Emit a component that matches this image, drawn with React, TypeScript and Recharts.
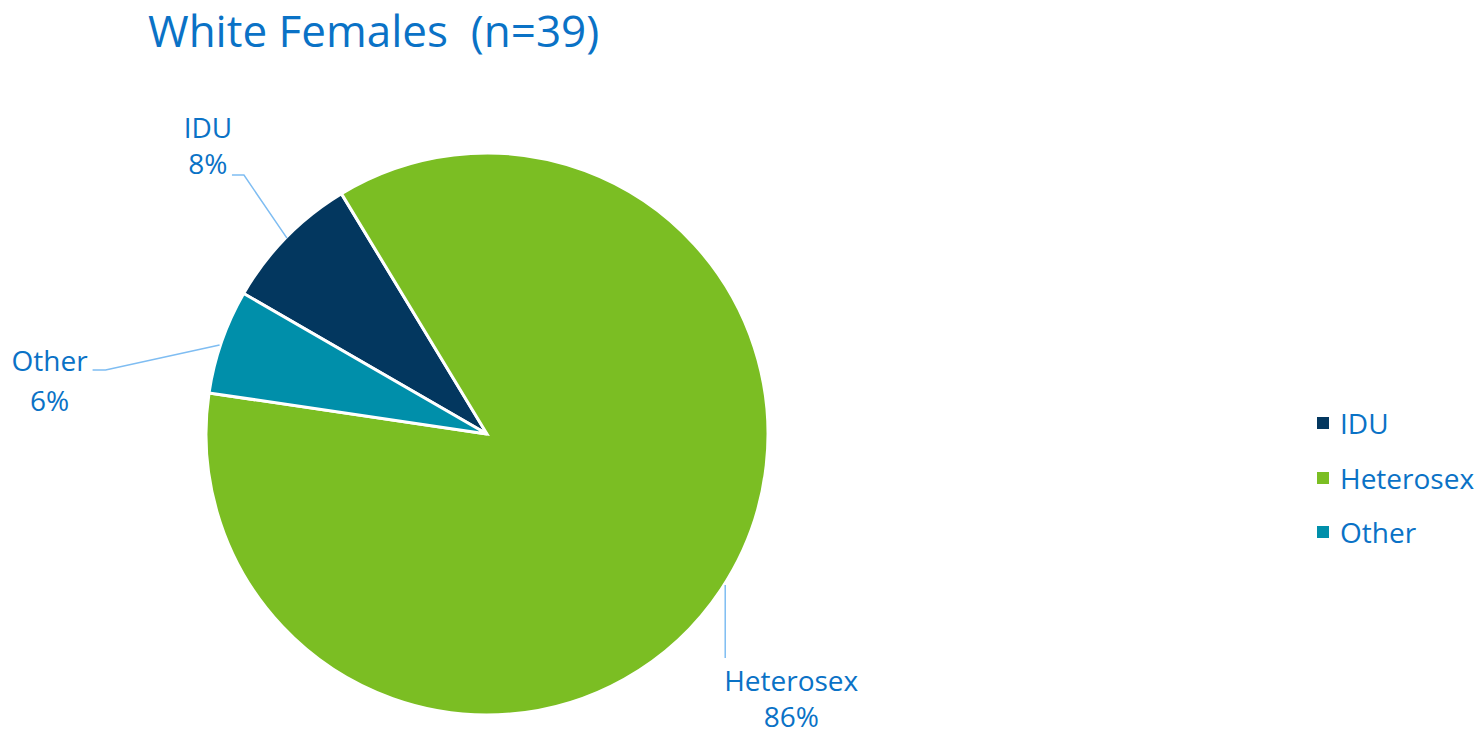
import { PieChart, Pie, Cell, Legend } from "recharts";

const categories = ["IDU", "Heterosex", "Other"];
const percents = [8, 86, 6];
const sliceColors = ["#03375F", "#7BBE23", "#008FAA"];

const data = categories.map((name, i) => ({ name, value: percents[i] }));

const TEXT_BLUE = "#0A72C6";
const LEADER_BLUE = "#7FBDF2";
const FONT = "'Open Sans', sans-serif";
const RADIAN = Math.PI / 180;

// leader/label offsets relative to the slice's outer edge point
const labelLayout: Record<string, any> = {
  IDU: { leader: [[0, 0], [-43, -63], [-55, -63]], text: [-79, -111, -75] },
  Other: { leader: [[-3, 3], [-117, 28], [-130, 28]], text: [-173, 18, 58] },
  Heterosex: { leader: [[5, -4], [5, 69]], text: [71, 91, 127] },
};

const renderLabel = (props: any) => {
  const { cx, cy, midAngle, name, value } = props;
  const r = 280;
  const ex = cx + r * Math.cos(-midAngle * RADIAN);
  const ey = cy + r * Math.sin(-midAngle * RADIAN);
  const cfg = labelLayout[name];
  const pts = cfg.leader.map((p: number[]) => `${ex + p[0]},${ey + p[1]}`).join(" ");
  const [tx, y1, y2] = cfg.text;
  return (
    <g>
      <polyline points={pts} fill="none" stroke={LEADER_BLUE} strokeWidth={1.5} />
      <text
        x={ex + tx}
        y={ey + y1}
        textAnchor="middle"
        dominantBaseline="central"
        fill={TEXT_BLUE}
        fontSize={28}
        fontFamily={FONT}
      >
        {name}
      </text>
      <text
        x={ex + tx}
        y={ey + y2}
        textAnchor="middle"
        dominantBaseline="central"
        fill={TEXT_BLUE}
        fontSize={28}
        fontFamily={FONT}
      >
        {`${value}%`}
      </text>
    </g>
  );
};

const renderLegend = () => (
  <div style={{ fontFamily: FONT, fontSize: 28, color: TEXT_BLUE }}>
    {categories.map((c, i) => (
      <div
        key={c}
        style={{ display: "flex", alignItems: "center", height: 54.6 }}
      >
        <span
          style={{
            display: "inline-block",
            width: 12,
            height: 12,
            background: sliceColors[i],
            marginRight: 11,
          }}
        />
        <span>{c}</span>
      </div>
    ))}
  </div>
);

export default function App() {
  return (
    <div
      style={{
        position: "absolute",
        left: 0,
        top: 0,
        width: 1476,
        height: 729,
        background: "#fff",
      }}
    >
      <div
        style={{
          position: "absolute",
          left: 148,
          top: 0,
          fontFamily: FONT,
          fontSize: 44,
          color: TEXT_BLUE,
          whiteSpace: "pre",
          lineHeight: "normal",
          zIndex: 2,
        }}
      >
        {"White Females  (n=39)"}
      </div>
      <PieChart
        width={1476}
        height={729}
        margin={{ top: 0, right: 0, bottom: 0, left: 0 }}
      >
        <Pie
          data={data}
          dataKey="value"
          nameKey="name"
          cx={487}
          cy={434}
          outerRadius={281}
          startAngle={150}
          endAngle={-210}
          stroke="#ffffff"
          strokeWidth={3}
          label={renderLabel}
          labelLine={false}
          isAnimationActive={false}
        >
          {data.map((d, i) => (
            <Cell key={d.name} fill={sliceColors[i]} />
          ))}
        </Pie>
        <Legend
          content={renderLegend}
          wrapperStyle={{
            left: 1317,
            top: 396,
            right: "auto",
            bottom: "auto",
            width: "auto",
          }}
        />
      </PieChart>
    </div>
  );
}
